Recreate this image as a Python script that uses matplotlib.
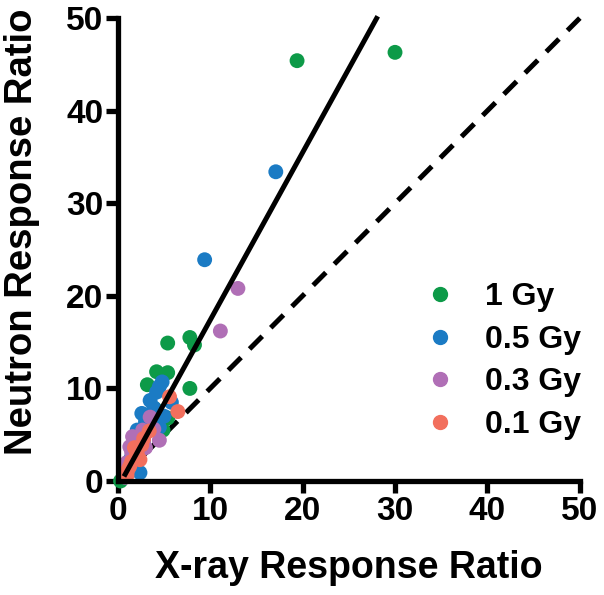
import matplotlib
matplotlib.use("Agg")
import matplotlib.pyplot as plt
from matplotlib.lines import Line2D

plt.rcParams["font.family"] = ["Liberation Sans", "DejaVu Sans"]
plt.rcParams["font.weight"] = "bold"

# 1 Gy
gy1_x = [30.0, 19.4, 7.8, 8.3, 5.4, 4.2, 5.4, 3.2, 7.8, 5.4, 4.9, 4.0, 3.3, 2.6, 2.0, 1.5, 1.1, 0.7, 0.3]
gy1_y = [46.3, 45.4, 15.5, 14.7, 14.9, 11.8, 11.7, 10.4, 10.0, 6.8, 5.5, 7.8, 6.2, 4.8, 3.6, 2.4, 1.6, 0.8, 0.0]
# 0.5 Gy
gy05_x = [17.1, 9.4, 4.8, 4.5, 3.5, 5.8, 2.6, 4.5, 2.1, 4.2, 3.9, 3.0, 2.4, 1.8, 1.4, 1.0, 0.7, 2.4, 5.0]
gy05_y = [33.4, 23.9, 10.7, 10.2, 8.7, 8.5, 7.3, 5.8, 5.5, 9.6, 7.9, 6.4, 4.6, 3.3, 2.4, 1.5, 0.8, 0.9, 7.0]
# 0.3 Gy
gy03_x = [13.0, 11.1, 3.5, 2.7, 1.6, 4.5, 1.3, 0.8, 2.2, 3.0, 3.9, 1.0, 2.0, 2.8, 1.5]
gy03_y = [20.8, 16.2, 6.9, 5.5, 4.8, 4.4, 3.7, 0.4, 4.4, 3.6, 5.6, 2.0, 2.6, 4.3, 3.1]
# 0.1 Gy
gy01_x = [6.5, 5.6, 2.1, 2.4, 1.1, 0.8, 1.5, 1.8, 2.8, 3.4, 1.3, 2.0, 0.6, 1.0, 2.6]
gy01_y = [7.5, 9.1, 3.0, 2.3, 1.2, 0.8, 2.1, 3.6, 4.6, 5.4, 1.6, 2.7, 0.5, 0.6, 3.9]

labels = ["1 Gy", "0.5 Gy", "0.3 Gy", "0.1 Gy"]
colors = ["#0d9a48", "#1b7bc4", "#b06fb6", "#f26f5d"]

# regression line and identity line
fit_slope, fit_intercept = 1.81, -0.72
fit_x = [0.8, 28.0]
ident_x = [0.5, 50]

fig = plt.figure(figsize=(6.04, 5.95), dpi=100)
ax = fig.add_axes([0.195, 0.1916, 0.765, 0.778])

ax.plot(ident_x, ident_x, color="black", lw=3.6, dashes=(3.6, 2.4), zorder=1,
        solid_capstyle="butt", clip_on=False)

series = [(gy1_x, gy1_y), (gy05_x, gy05_y), (gy03_x, gy03_y), (gy01_x, gy01_y)]
for (xs, ys), c in zip(series, colors):
    ax.scatter(xs, ys, s=115, color=c, edgecolors="none", zorder=2, clip_on=False)

ax.plot(fit_x, [fit_slope * v + fit_intercept for v in fit_x], color="black",
        lw=3.6, zorder=3, clip_on=False)

ax.set_xlim(0, 50)
ax.set_ylim(0, 50)
ax.set_xticks(range(0, 51, 10))
ax.set_yticks(range(0, 51, 10))
for side in ["top", "right"]:
    ax.spines[side].set_visible(False)
for side in ["left", "bottom"]:
    ax.spines[side].set_linewidth(3.8)
    ax.spines[side].set_capstyle("projecting")
ax.tick_params(width=3.8, length=8.5, labelsize=24, pad=2)
for lab in ax.get_xticklabels() + ax.get_yticklabels():
    lab.set_fontweight("bold")

ax.set_xlabel("X-ray Response Ratio", fontsize=27, fontweight="bold")
ax.set_ylabel("Neutron Response Ratio", fontsize=27.5, fontweight="bold")
ax.xaxis.set_label_coords(0.5, -0.15)
ax.yaxis.set_label_coords(-0.168, 0.538)

handles = [Line2D([], [], marker="o", ls="none", color=c, markersize=10) for c in colors]
ax.legend(handles, labels, loc="center left", bbox_to_anchor=(0.662, 0.259),
          frameon=False, handlelength=1.0, handletextpad=0.92,
          labelspacing=0.4, borderpad=0, borderaxespad=0,
          prop={"weight": "bold", "size": 23})

fig.savefig("out.png", dpi=100)
